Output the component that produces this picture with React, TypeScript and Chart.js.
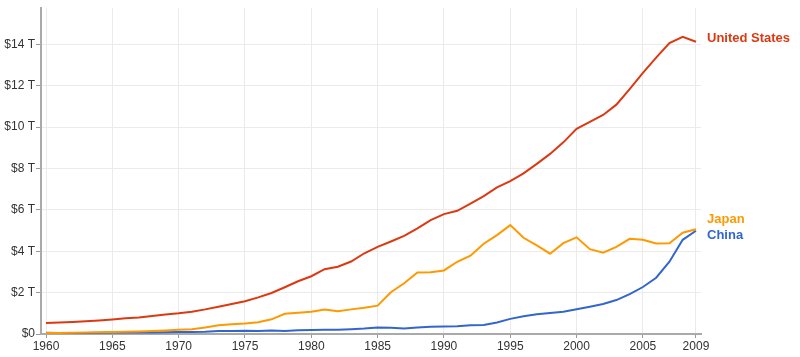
import React, { useEffect, useRef } from "react";
import { Chart, registerables } from "chart.js";

Chart.register(...registerables);

const years: number[] = [
  1960, 1961, 1962, 1963, 1964, 1965, 1966, 1967, 1968, 1969,
  1970, 1971, 1972, 1973, 1974, 1975, 1976, 1977, 1978, 1979,
  1980, 1981, 1982, 1983, 1984, 1985, 1986, 1987, 1988, 1989,
  1990, 1991, 1992, 1993, 1994, 1995, 1996, 1997, 1998, 1999,
  2000, 2001, 2002, 2003, 2004, 2005, 2006, 2007, 2008, 2009,
];

// GDP, trillions of US$
const usGdp: number[] = [
  0.53, 0.55, 0.58, 0.61, 0.65, 0.7, 0.76, 0.8, 0.87, 0.94,
  1.0, 1.08, 1.19, 1.32, 1.45, 1.58, 1.77, 1.98, 2.26, 2.55,
  2.79, 3.13, 3.25, 3.5, 3.9, 4.21, 4.47, 4.74, 5.1, 5.5,
  5.79, 5.95, 6.3, 6.66, 7.08, 7.39, 7.76, 8.22, 8.7, 9.26,
  9.91, 10.25, 10.58, 11.08, 11.83, 12.62, 13.35, 14.06, 14.36, 14.12,
];

const japanGdp: number[] = [
  0.044, 0.054, 0.06, 0.069, 0.082, 0.091, 0.106, 0.124, 0.147, 0.172,
  0.207, 0.232, 0.309, 0.42, 0.47, 0.51, 0.57, 0.71, 0.98, 1.03,
  1.07, 1.18, 1.1, 1.19, 1.27, 1.37, 2.02, 2.45, 2.97, 2.98,
  3.07, 3.49, 3.78, 4.36, 4.78, 5.26, 4.65, 4.28, 3.88, 4.39,
  4.67, 4.1, 3.93, 4.21, 4.6, 4.55, 4.37, 4.38, 4.89, 5.06,
];

const chinaGdp: number[] = [
  0.06, 0.05, 0.047, 0.05, 0.059, 0.07, 0.076, 0.072, 0.07, 0.079,
  0.092, 0.1, 0.11, 0.14, 0.14, 0.16, 0.15, 0.17, 0.15, 0.18,
  0.19, 0.2, 0.2, 0.23, 0.26, 0.31, 0.3, 0.27, 0.31, 0.35,
  0.36, 0.38, 0.42, 0.44, 0.56, 0.73, 0.86, 0.95, 1.02, 1.08,
  1.2, 1.32, 1.45, 1.64, 1.93, 2.27, 2.72, 3.49, 4.55, 4.99,
];

const seriesNames: string[] = ["United States", "Japan", "China"];
const seriesColors: string[] = ["#dc3912", "#ff9900", "#3366cc"];

const xTickValues: number[] = [1960, 1965, 1970, 1975, 1980, 1985, 1990, 1995, 2000, 2005, 2009];
const yTickValues: number[] = [0, 2, 4, 6, 8, 10, 12, 14];

const endLabelsPlugin = {
  id: "endLabels",
  afterDatasetsDraw(chart: any) {
    const { ctx, chartArea, scales } = chart;
    const yScale = scales.y;
    const items = chart.data.datasets.map((ds: any, i: number) => {
      const last = ds.data[ds.data.length - 1];
      return { text: ds.label, color: ds.borderColor, y: yScale.getPixelForValue(last.y), i };
    });
    // resolve overlaps
    const sorted = [...items].sort((a, b) => a.y - b.y);
    const gap = 16;
    for (let k = 1; k < sorted.length; k++) {
      if (sorted[k].y - sorted[k - 1].y < gap) {
        const mid = (sorted[k].y + sorted[k - 1].y) / 2;
        sorted[k - 1].y = mid - gap / 2;
        sorted[k].y = mid + gap / 2;
      }
    }
    ctx.save();
    ctx.font = "bold 13px 'Liberation Sans', Arial, sans-serif";
    ctx.textAlign = "left";
    ctx.textBaseline = "middle";
    for (const it of sorted) {
      ctx.fillStyle = it.color;
      ctx.fillText(it.text, chartArea.right + 6, it.y - 3);
    }
    ctx.restore();
  },
};

export default function App() {
  const canvasRef = useRef<HTMLCanvasElement | null>(null);

  useEffect(() => {
    document.body.style.margin = "0";
    const canvas = canvasRef.current;
    if (!canvas) return;
    const series = [usGdp, japanGdp, chinaGdp];
    const chart = new Chart(canvas, {
      type: "line",
      data: {
        datasets: series.map((vals, i) => ({
          label: seriesNames[i],
          data: years.map((yr, j) => ({ x: yr, y: vals[j] })),
          borderColor: seriesColors[i],
          backgroundColor: seriesColors[i],
          borderWidth: 2,
          pointRadius: 0,
          tension: 0,
          fill: false,
        })),
      },
      options: {
        animation: false,
        responsive: false,
        maintainAspectRatio: false,
        layout: { padding: { top: 7, right: 99, left: 0, bottom: 0 } },
        plugins: {
          legend: { display: false },
          tooltip: { enabled: false },
        },
        scales: {
          x: {
            type: "linear",
            min: 1959.62,
            max: 2009.38,
            afterBuildTicks: (scale: any) => {
              scale.ticks = xTickValues.map((v) => ({ value: v }));
            },
            afterFit: (scale: any) => {
              scale.height = 23;
            },
            ticks: {
              autoSkip: false,
              maxRotation: 0,
              padding: 1,
              color: "#333",
              font: { family: "'Liberation Sans', Arial, sans-serif", size: 12 },
              callback: (v: any) => String(v),
            },
            grid: {
              color: "#ebebeb",
              lineWidth: 1,
              tickLength: 4,
              tickColor: "#999",
              drawTicks: true,
            },
            border: { display: true, color: "#aaa", width: 2 },
          },
          y: {
            min: 0,
            max: 15.74,
            afterBuildTicks: (scale: any) => {
              scale.ticks = yTickValues.map((v) => ({ value: v }));
            },
            afterFit: (scale: any) => {
              scale.width = 41;
            },
            ticks: {
              padding: 1,
              color: "#333",
              font: { family: "'Liberation Sans', Arial, sans-serif", size: 12 },
              callback: (v: any) => (v === 0 ? "$0" : `$${v} T`),
            },
            grid: {
              color: "#ebebeb",
              lineWidth: 1,
              tickLength: 5,
              tickColor: "#999",
              drawTicks: true,
            },
            border: { display: true, color: "#aaa", width: 2 },
          },
        },
      },
      plugins: [endLabelsPlugin],
    } as any);
    return () => chart.destroy();
  }, []);

  return (
    <div style={{ width: 800, height: 357, background: "#fff" }}>
      <canvas ref={canvasRef} width={800} height={357} style={{ display: "block" }} />
    </div>
  );
}
